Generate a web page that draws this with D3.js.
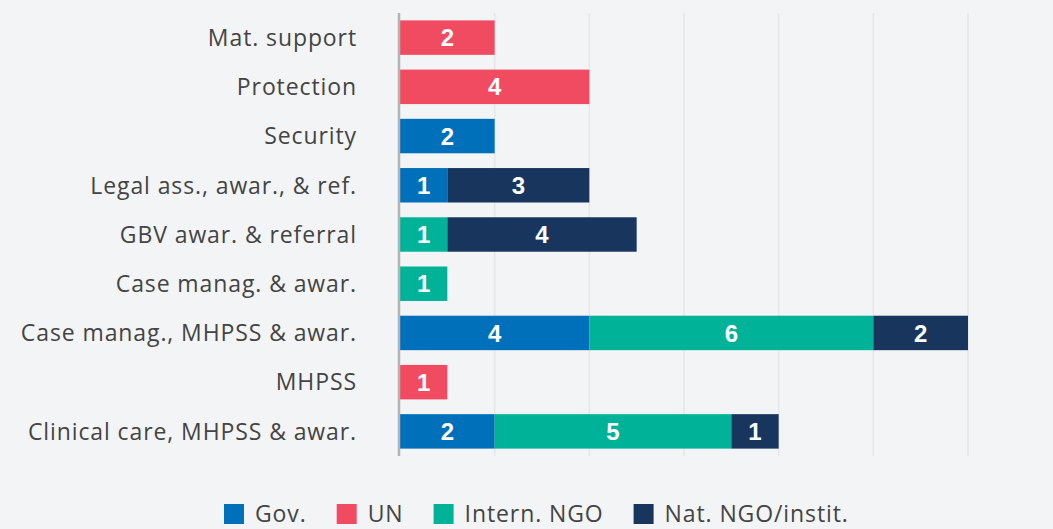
<!DOCTYPE html>
<html lang="en">
<head>
<meta charset="utf-8">
<title>Services by provider type</title>
<script src="https://d3js.org/d3.v7.min.js"></script>
<style>
  body { margin: 0; background: #f3f4f6; }
  svg { display: block; }
  text { font-family: "Open Sans", sans-serif; }
</style>
</head>
<body>
<script>
// data
var categories = ["Mat. support", "Protection", "Security", "Legal ass., awar., & ref.",
  "GBV awar. & referral", "Case manag. & awar.", "Case manag., MHPSS & awar.",
  "MHPSS", "Clinical care, MHPSS & awar."];
var seriesNames = ["Gov.", "UN", "Intern. NGO", "Nat. NGO/instit."];
var gov      = [0, 0, 2, 1, 0, 0, 4, 0, 2];
var un       = [2, 4, 0, 0, 0, 0, 0, 1, 0];
var intNgo   = [0, 0, 0, 0, 1, 1, 6, 0, 5];
var natNgo   = [0, 0, 0, 3, 4, 0, 2, 0, 1];
var colors = ["#0070ba", "#f14b61", "#00b398", "#18365d"];

var W = 1053, H = 529;
var svg = d3.select("body").append("svg").attr("width", W).attr("height", H);
svg.append("rect").attr("width", W).attr("height", H).attr("fill", "#f3f4f6");

var seriesVals = [gov, un, intNgo, natNgo];
var rows = categories.map(function(c, i) {
  var r = { cat: c };
  seriesNames.forEach(function(s, j) { r[s] = seriesVals[j][i]; });
  return r;
});
var stacked = d3.stack().keys(seriesNames)(rows);

var x = d3.scaleLinear().domain([0, 12]).range([400, 968]);
var y = d3.scaleBand().domain(categories).range([13, 456])
  .paddingInner(0.3).paddingOuter(0.15);

// gridlines
svg.append("g").selectAll("line")
  .data(x.ticks(6).filter(function(t) { return t > 0; }))
  .join("line")
  .attr("x1", function(d) { return x(d); }).attr("x2", function(d) { return x(d); })
  .attr("y1", 13).attr("y2", 456)
  .attr("stroke", "#e4e6ea").attr("stroke-width", 1.5);

// bars
var layer = svg.append("g").selectAll("g")
  .data(stacked).join("g")
  .attr("fill", function(d, i) { return colors[i]; });

layer.selectAll("rect")
  .data(function(d) { return d.filter(function(p) { return p[1] > p[0]; }); })
  .join("rect")
  .attr("x", function(d) { return x(d[0]); })
  .attr("width", function(d) { return x(d[1]) - x(d[0]); })
  .attr("y", function(d) { return y(d.data.cat); })
  .attr("height", y.bandwidth());

layer.selectAll("text")
  .data(function(d) { return d.filter(function(p) { return p[1] > p[0]; }); })
  .join("text")
  .attr("x", function(d) { return (x(d[0]) + x(d[1])) / 2; })
  .attr("y", function(d) { return y(d.data.cat) + y.bandwidth() / 2; })
  .attr("dy", "0.36em")
  .attr("text-anchor", "middle")
  .attr("fill", "#fff")
  .style("font-family", "Arial, 'Liberation Sans', sans-serif")
  .style("font-weight", "bold")
  .style("font-size", "24px")
  .text(function(d) { return d[1] - d[0]; });

// y axis line
svg.append("line")
  .attr("x1", 399).attr("x2", 399).attr("y1", 13).attr("y2", 456)
  .attr("stroke", "#b3b3b3").attr("stroke-width", 2.5);

// category labels
svg.append("g").selectAll("text")
  .data(categories).join("text")
  .attr("x", 357)
  .attr("y", function(d) { return y(d) + y.bandwidth() / 2; })
  .attr("dy", "0.36em")
  .attr("text-anchor", "end")
  .attr("fill", "#444")
  .style("font-size", "23px")
  .style("letter-spacing", "0.9px")
  .text(function(d) { return d; });

// legend
var legend = svg.append("g");
var lx = 224;
seriesNames.forEach(function(s, i) {
  var g = legend.append("g").attr("transform", "translate(" + lx + ",504)");
  g.append("rect").attr("width", 20).attr("height", 20).attr("fill", colors[i]);
  var t = g.append("text").attr("x", 31).attr("y", 10).attr("dy", "0.36em")
    .attr("fill", "#444").style("font-size", "23px").style("letter-spacing", "0.9px")
    .text(s);
  lx += 31 + t.node().getComputedTextLength() + 30;
});
</script>
</body>
</html>
